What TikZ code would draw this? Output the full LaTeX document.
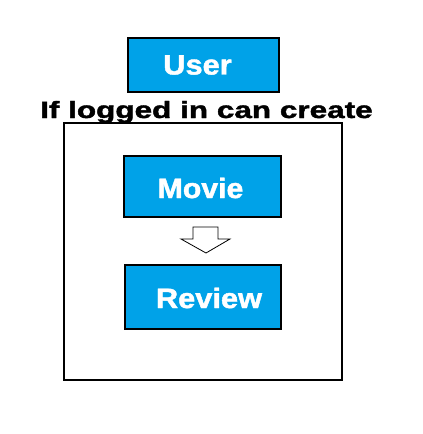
\documentclass[tikz,border=0pt]{standalone}
\usepackage{fontspec}
\setmainfont{Liberation Sans}
\newfontfamily\heavyfont[FakeBold=1.5]{Liberation Sans Bold}
\definecolor{paintblue}{HTML}{00A2E8}
\begin{document}
\begin{tikzpicture}[x=1pt,y=-1pt,
    box/.style={draw=black,line width=1.2pt,fill=paintblue,inner sep=0pt},
    boxtext/.style={text=white,font=\fontsize{28}{30}\selectfont\heavyfont,inner sep=0pt},
    heading/.style={font=\fontsize{23.5}{25}\selectfont\heavyfont,inner sep=0pt,anchor=base west}]
        \useasboundingbox[fill=white] (0,0) rectangle (423,434);
        %% Outer frame
        \draw[line width=1.2pt] (64,123) rectangle (342,380);
        %% User
        \node[box,minimum width=151pt,minimum height=54pt] (user) at (203.5,65) {};
        \node[boxtext] (usertext) at (197.5,65) {\scalebox{1.1}[1]{User}};
        \node[heading] (cond) at (40,118) {\scalebox{1.34}[1]{If logged in can create}};
        %% Movie and Review
        \node[box,minimum width=157pt,minimum height=61pt] (movie) at (202.5,186.5) {};
        \node[boxtext] (movietext) at (200.5,188) {\scalebox{1.08}[1]{Movie}};
        \node[box,minimum width=156pt,minimum height=64pt] (review) at (203,297) {};
        \node[boxtext] (reviewtext) at (209,298) {\scalebox{1.1}[1]{Review}};
        %% Block arrow
        \draw[line width=0.8pt,fill=white] (193,227) -- (218,227) -- (218,239) -- (230,239)
            -- (206,253) -- (181,239) -- (193,239) -- cycle;
    \end{tikzpicture}
\end{document}
